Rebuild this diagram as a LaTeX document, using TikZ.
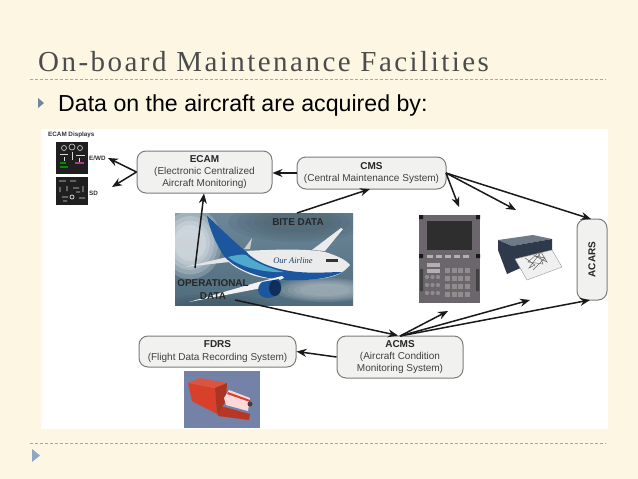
\documentclass[tikz,border=0pt]{standalone}
\usepackage{fontspec}
\setmainfont{Liberation Sans}
\newfontfamily\titlefont[LetterSpace=8.5]{Liberation Serif}
\newfontfamily\planefont{Liberation Serif}
\usetikzlibrary{arrows.meta}
\definecolor{slidebg}{HTML}{FDF6E3}
\definecolor{boxfill}{HTML}{F1F1EF}
\definecolor{boxline}{HTML}{7C7C7C}
\definecolor{labelgray}{HTML}{404040}
\definecolor{ruleline}{HTML}{A8A8A2}
\definecolor{bulletblue}{HTML}{8FA6C4}
\definecolor{planeblue}{HTML}{1B569F}
\definecolor{planeteal}{HTML}{4FA9CC}
\definecolor{fdrred}{HTML}{D8402A}
\definecolor{skytop}{HTML}{6C8799}
\definecolor{skymid}{HTML}{D3DADD}
\definecolor{skylow}{HTML}{4F6C7C}
\definecolor{fmsgray}{HTML}{6A666C}
\definecolor{fmskey}{HTML}{B4B0B2}
\definecolor{printtopc}{HTML}{6F7A86}
\definecolor{printfront}{HTML}{2E3A4C}
\definecolor{fdrbg}{HTML}{7482A8}
\tikzset{
	sysbox/.style={draw=boxline, fill=boxfill, line width=1pt, rounded corners=9pt, inner sep=0pt, align=center, text=labelgray, font=\fontsize{10}{12.4}\selectfont},
	tagtext/.style={inner sep=0pt, text=black!85, font=\bfseries\fontsize{9.9}{13}\selectfont, align=center},
	tinytext/.style={inner sep=0pt, text=black!80, font=\bfseries\fontsize{6.3}{7}\selectfont},
	flow/.style={draw=black!90, line width=1.5pt, -{Stealth[length=10pt,width=8pt]}},
	rule/.style={draw=ruleline, line width=0.6pt, dash pattern=on 3pt off 2pt}
}
\begin{document}
\begin{tikzpicture}[x=1pt, y=-1pt]
	\useasboundingbox (0, 0) rectangle (638, 479);
	\fill[slidebg] (0, 0) rectangle (638, 479);
	\fill[white] (41, 129) rectangle (608, 429);

	\node[anchor=base west, inner sep=0pt, text=black!70, font=\titlefont\fontsize{29}{30}\selectfont] (title) at (38, 71) {On-board Maintenance Facilities};
	\draw[rule] (30, 79) -- (606, 79);
	\draw[rule] (30, 443) -- (606, 443);
	\fill[bulletblue!80!black] (38, 98) -- (44, 103) -- (38, 108) -- cycle;
	\fill[bulletblue] (32, 449) -- (40, 455.5) -- (32, 462) -- cycle;
	\node[anchor=base west, inner sep=0pt, font=\fontsize{23.15}{26}\selectfont] (intro) at (58, 111) {Data on the aircraft are acquired by:};

	% ecam screens
	\fill[black!88] (56, 142) rectangle (88, 174);
	\fill[black!88] (56, 177) rectangle (88, 205);
	\draw[green!55!black, line width=1.4pt] (60, 163) -- (66, 163) (60, 167) -- (68, 167);
	\draw[magenta!70!black, line width=1.4pt] (75, 163) -- (84, 163);
	\draw[white!70!gray, line width=0.6pt] (64, 148) circle (2.5) (72, 147) circle (3) (80, 148) circle (2.5);
	\draw[white!70!gray, line width=0.5pt] (60, 154) -- (68, 154) (72, 152) -- (72, 160) (76, 155) -- (85, 155) (64, 157) -- (64, 161) (79, 158) -- (79, 162);
	\draw[white!75!gray, line width=0.7pt] (59, 181) -- (66, 181) (70, 181) -- (76, 181) (60, 187) -- (60, 192) (67, 186) -- (67, 191) (73, 188) -- (79, 188) (83, 186) -- (83, 192) (62, 197) -- (68, 197) (72, 197) circle (2) (79, 198) -- (85, 198) (63, 201) -- (67, 201) (76, 192) -- (80, 192);
	\node[tinytext, anchor=west] (ecamdisp) at (48, 135) {ECAM Displays};
	\node[tinytext, anchor=west] (ewd) at (89, 158) {E/WD};
	\node[tinytext, anchor=west] (sd) at (89, 193) {SD};

	% aircraft photo
	\begin{scope}
		\clip (175, 213) rectangle (353, 305);
		\shade[top color=skytop, middle color=skymid, bottom color=skylow] (175, 213) rectangle (353, 305);
		\foreach \r in {0.5,0.625,...,1}
		{
			\fill[white, opacity=0.2] (190, 243) ellipse ({\r*32} and {\r*36});
			\fill[skytop!70!black, opacity=0.17] (298, 222) ellipse ({\r*70} and {\r*20});
			\fill[skymid, opacity=0.14] (325, 290) ellipse ({\r*50} and {\r*12});
			\fill[skylow!80!black, opacity=0.14] (215, 308) ellipse ({\r*60} and {\r*14});
		}
		\fill[white!90!black] (185, 267) -- (227, 257) -- (229, 262) -- cycle;
		\fill[white!80!black] (244, 249) -- (252, 238) -- (250, 249) -- cycle;
		\fill[white!92!black] (312, 250) -- (341, 228) -- (343, 229) -- (325, 251) -- cycle;
		\fill[white!92!black] (245, 251) .. controls (280, 249) and (310, 249) .. (325, 252) .. controls (338, 256) and (346, 260) .. (350, 265) .. controls (344, 272) and (338, 276) .. (325, 278) .. controls (300, 281) and (270, 281) .. (252, 275) .. controls (240, 270) and (232, 266) .. (227, 260) -- cycle;
		\fill[planeblue] (207, 216) .. controls (214, 222) and (232, 240) .. (244, 250) -- (245, 252) .. controls (238, 254) and (230, 256) .. (224, 256) .. controls (216, 244) and (210, 230) .. (207, 216) -- cycle;
		\fill[planeblue] (224, 256) .. controls (232, 254) and (240, 251) .. (246, 251) .. controls (250, 258) and (268, 268) .. (290, 271) .. controls (310, 274) and (330, 272) .. (342, 272) .. controls (330, 279) and (305, 281) .. (285, 280) .. controls (262, 279) and (236, 270) .. (224, 256) -- cycle;
		\fill[planeteal] (228, 257) .. controls (236, 255) and (242, 254) .. (246, 255) .. controls (254, 262) and (268, 268) .. (284, 272) .. controls (268, 273) and (240, 268) .. (228, 257) -- cycle;
		\fill[white!95!black] (189, 302) -- (255, 283) -- (282, 276) -- (284, 278) -- (262, 288) -- cycle;
		\fill[planeblue] (262, 282) -- (279, 279) .. controls (284, 287) and (281, 297) .. (268, 298) .. controls (258, 298) and (255, 288) .. (262, 282) -- cycle;
		\fill[planeblue!55!black] (275, 288) ellipse (6 and 8);
		\fill[black!80] (326, 259) rectangle (338, 262);
		\node[inner sep=0pt, text=planeblue!70!black, font=\planefont\itshape\fontsize{8.5}{9}\selectfont] (airline) at (293, 261) {Our Airline};
	\end{scope}
	\node[tagtext] (bite) at (298, 222) {BITE DATA};
	\node[tagtext] (opdata) at (213, 289.5) {OPERATIONAL\\DATA};

	% fms unit
	\fill[fmsgray] (419, 215) rectangle (480, 303);
	\fill[black!82] (427, 221) rectangle (472, 250);
	\foreach \i in {0,...,4}
		\fill[fmskey] ({427+\i*9}, 254.5) rectangle ({433+\i*9}, 257.5);
	\foreach \i in {0,...,3}
		\foreach \j in {0,...,3}
			\fill[fmskey!80!black] ({445+\i*6.6}, {268+\j*8}) rectangle ({450+\i*6.6}, {273+\j*8});
	\foreach \i in {0,...,2}
		\foreach \j in {0,...,2}
			\fill[fmskey!80!black] ({427+\i*5.5}, {277+\j*8}) circle (2.1);
	\foreach \j in {0,1}
		\fill[fmskey] (427, {263+\j*6}) rectangle (440, {267+\j*6});
	\fill[black!90] (419, 215) rectangle (423, 219) (476, 215) rectangle (480, 219) (419, 254) rectangle (423, 258) (476, 254) rectangle (480, 258);
	\fill[black!75] (420, 269) rectangle (423, 291) (476, 269) rectangle (479, 291);

	% printer
	\fill[printtopc] (498, 240) -- (533, 235) -- (552, 239) -- (512, 246) -- cycle;
	\fill[printfront] (498, 240) -- (512, 246) -- (552, 239) -- (552, 254) -- (507, 274) -- (498, 250) -- cycle;
	\draw[black!40, fill=white!94!black] (515, 259) -- (552, 250) -- (562, 267) -- (527, 280) -- cycle;
	\draw[black!60, line width=0.5pt] (525, 258) -- (535, 265) -- (529, 268) -- (541, 252) -- (547, 262) -- (535, 256) -- (545, 258) -- (533, 270);
	\draw[black!55, line width=0.5pt] (537, 254) -- (528, 262) -- (543, 264) -- (538, 252);

	% flight recorder
	\fill[fdrbg] (184, 371) rectangle (260, 428);
	\fill[fdrred!85!black] (217, 405) -- (250, 414) -- (249, 420) -- (218, 416) -- cycle;
	\fill[fdrred] (188, 383) -- (215, 388) -- (217, 414) -- (192, 401) -- cycle;
	\fill[fdrred!90!white] (188, 383) -- (200, 378) -- (227, 383) -- (215, 388) -- cycle;
	\fill[fdrred!80!black] (215, 388) -- (227, 383) -- (226, 401) -- (217, 414) -- cycle;
	\fill[white!85!red] (224, 398) -- (229, 390) -- (250, 398) -- (248, 411) -- (226, 405) -- cycle;
	\fill[fdrred] (228, 392) -- (250, 400) -- (250, 402) -- (227, 394) -- cycle;
	\fill[black!75] (250, 404) circle (2.5);

	\node[sysbox, minimum width=135pt, minimum height=42pt] (ecam) at (204.5, 172) {\textbf{\color{black!85}ECAM}\\(Electronic Centralized\\Aircraft Monitoring)};
	\node[sysbox, minimum width=149pt, minimum height=32pt] (cms) at (371.5, 173) {\textbf{\color{black!85}CMS}\\(Central Maintenance System)};
	\node[sysbox, minimum width=30pt, minimum height=81pt] (acars) at (592, 259.5) {\rotatebox{90}{\textbf{\color{black!85}ACARS}}};
	\node[sysbox, minimum width=126pt, minimum height=42pt] (acms) at (400, 357) {\textbf{\color{black!85}ACMS}\\(Aircraft Condition\\Monitoring System)};
	\node[sysbox, minimum width=157pt, minimum height=31pt] (fdrs) at (217.5, 351.5) {\textbf{\color{black!85}FDRS}\\(Flight Data Recording System)};

	\coordinate (ewdtip) at (108, 158);
	\coordinate (sdtip) at (112, 187);
	\coordinate (fmstop) at (459, 207);
	\coordinate (printtop) at (516, 210);
	\coordinate (fmsbot) at (448, 311);
	\coordinate (printbot) at (530, 300);
	\coordinate (acarsbot) at (590, 300);
	\coordinate (acarstop) at (591, 219);
	\coordinate (cmsexit) at (446, 173);
	\coordinate (acmsexit) at (400, 336);
	\coordinate (opfoot) at (235, 300);
	\coordinate (ophead) at (195, 268);
	\coordinate (ecamin) at (204, 193.5);
	\coordinate (bitefoot) at (297, 213);
	\coordinate (cmsin) at (370, 189);
	\coordinate (acmsin) at (398, 335.5);

	\draw[flow] (ecam.west) -- (ewdtip);
	\draw[flow] (ecam.west) -- (sdtip);
	\draw[flow] (cms.west) -- (ecam.east |- cms.west);
	\draw[flow] (ophead) -- (ecamin);
	\draw[flow] (bitefoot) -- (cmsin);
	\draw[flow] (opfoot) -- (acmsin);
	\draw[flow] (acms.west) -- (fdrs.east);
	\draw[flow] (cmsexit) -- (fmstop);
	\draw[flow] (cmsexit) -- (printtop);
	\draw[flow] (cmsexit) -- (acarstop);
	\draw[flow] (acmsexit) -- (fmsbot);
	\draw[flow] (acmsexit) -- (printbot);
	\draw[flow] (acmsexit) -- (acarsbot);
\end{tikzpicture}
\end{document}
